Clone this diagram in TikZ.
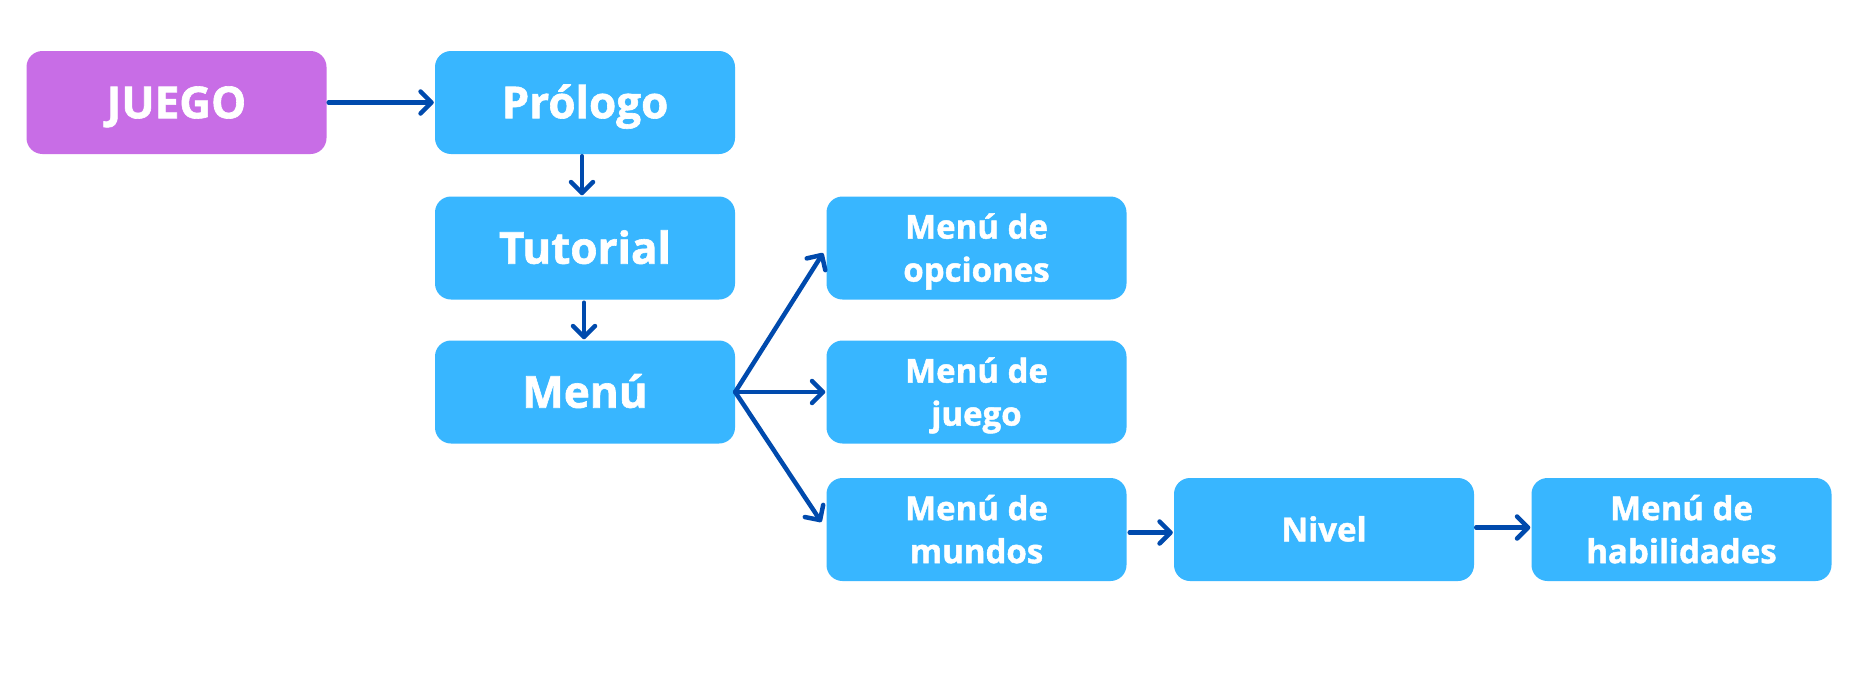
\documentclass[tikz,border=0pt]{standalone}
\usepackage{fontspec}
\setmainfont{Open Sans}[BoldFeatures={FakeBold=1.4}]
\usetikzlibrary{arrows.meta}
\definecolor{boxblue}{HTML}{38B6FF}
\definecolor{boxpurple}{HTML}{C86DE6}
\definecolor{arrowblue}{HTML}{004AAD}
\newcommand\twolines[2]{\rule{0pt}{34pt}#1\\#2\rule[-9.8pt]{0pt}{9.8pt}}
\begin{document}
\begin{tikzpicture}[x=1pt,y=-1pt,
  box/.style={rounded corners=16pt, fill=boxblue, minimum width=300pt, minimum height=103pt, inner sep=0pt, align=center, text=white},
  bigtxt/.style={font=\fontsize{44}{50}\selectfont\bfseries, text height=42pt, text depth=10.6pt},
  smalltxt/.style={font=\fontsize{33}{43}\selectfont\bfseries},
  onetxt/.style={font=\fontsize{33}{43}\selectfont\bfseries, text height=30pt, text depth=6.4pt},
  conn/.style={draw=arrowblue, line width=4.5pt, line cap=round, -{Straight Barb[length=11pt,width=22pt,round]}}
]
\useasboundingbox (0,0) rectangle (1863,696);
\fill[white] (0,0) rectangle (1863,696);
\node[box, bigtxt, fill=boxpurple] (juego) at (176.5,102.5) {JUEGO};
\node[box, bigtxt] (prologo) at (585,102.5) {Prólogo};
\node[box, bigtxt] (tutorial) at (585,248) {Tutorial};
\node[box, bigtxt] (menu) at (585,392) {Menú};
\node[box, smalltxt] (opciones) at (976.5,248) {\twolines{Menú de}{opciones}};
\node[box, smalltxt] (mjuego) at (976.5,392) {\twolines{Menú de}{juego}};
\node[box, smalltxt] (mundos) at (976.5,529.5) {\twolines{Menú de}{mundos}};
\node[box, onetxt] (nivel) at (1324,529.5) {Nivel};
\node[box, smalltxt] (habil) at (1681.5,529.5) {\twolines{Menú de}{habilidades}};

\draw[conn, shorten <=2pt, shorten >=1pt] (juego.east) -- (prologo.west);
\draw[conn, shorten <=2pt, shorten >=1pt] ([xshift=-3pt]prologo.south) -- ([xshift=-3pt]tutorial.north);
\draw[conn, shorten <=3pt, shorten >=1pt] ([xshift=-1pt]tutorial.south) -- ([xshift=-1pt]menu.north);
\draw[conn, shorten >=6pt] (menu.east) -- (opciones.west);
\draw[conn, shorten >=1pt] (menu.east) -- (mjuego.west);
\draw[conn, shorten >=9pt] (menu.east) -- (mundos.west);
\draw[conn, shorten <=3pt, shorten >=1pt] ([yshift=-3pt]mundos.east) -- ([yshift=-3pt]nivel.west);
\draw[conn, shorten <=2pt, shorten >=1pt] ([yshift=2pt]nivel.east) -- ([yshift=2pt]habil.west);
\end{tikzpicture}
\end{document}
